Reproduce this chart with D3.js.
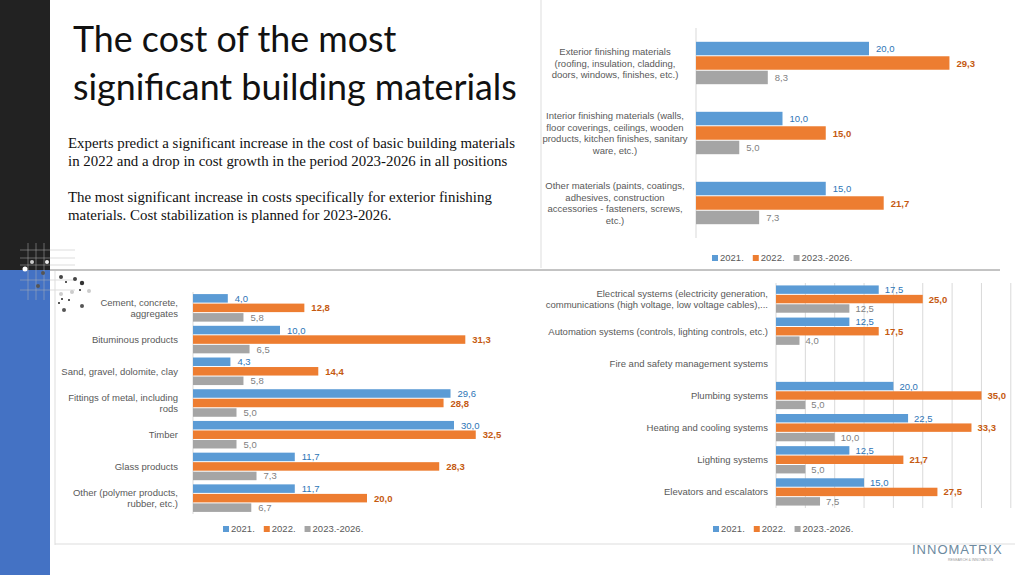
<!DOCTYPE html>
<html><head><meta charset="utf-8">
<script src="https://cdn.jsdelivr.net/npm/d3@7"></script>
<style>body{margin:0;background:#fff}svg{display:block}</style>
</head><body>
<svg id="s" width="1024" height="575"></svg>
<script>
const seriesNames = ["2021.", "2022.", "2023.-2026."];
const finishCats = [
  ["Exterior finishing materials","(roofing, insulation, cladding,","doors, windows, finishes, etc.)"],
  ["Interior finishing materials (walls,","floor coverings, ceilings, wooden","products, kitchen finishes, sanitary","ware, etc.)"],
  ["Other materials (paints, coatings,","adhesives, construction","accessories - fasteners, screws,","etc.)"]
];
const finish2021 = [20.0, 10.0, 15.0];
const finish2022 = [29.3, 15.0, 21.7];
const finish2326 = [8.3, 5.0, 7.3];

const basicCats = [
  ["Cement, concrete,","aggregates"],["Bituminous products"],["Sand, gravel, dolomite, clay"],
  ["Fittings of metal, including","rods"],["Timber"],["Glass products"],["Other (polymer products,","rubber, etc.)"]
];
const basic2021 = [4.0, 10.0, 4.3, 29.6, 30.0, 11.7, 11.7];
const basic2022 = [12.8, 31.3, 14.4, 28.8, 32.5, 28.3, 20.0];
const basic2326 = [5.8, 6.5, 5.8, 5.0, 5.0, 7.3, 6.7];

const sysCats = [
  ["Electrical systems (electricity generation,","communications (high voltage, low voltage cables),..."],
  ["Automation systems (controls, lighting controls, etc.)"],
  ["Fire and safety management systems"],["Plumbing systems"],["Heating and cooling systems"],
  ["Lighting systems"],["Elevators and escalators"]
];
const sys2021 = [17.5, 12.5, null, 20.0, 22.5, 12.5, 15.0];
const sys2022 = [25.0, 17.5, null, 35.0, 33.3, 21.7, 27.5];
const sys2326 = [12.5, 4.0, null, 5.0, 10.0, 5.0, 7.5];
const sysTicks = [0,5,10,15,20,25,30,35,40];

const colors = ["#5b9bd5","#ed7d31","#a5a5a5"];
const valColors = ["#2e75b6","#c55a11","#7f7f7f"];
const svg = d3.select("#s");
const F = "'Liberation Sans', Arial, sans-serif";

svg.append("rect").attr("x",0).attr("y",0).attr("width",50).attr("height",270).attr("fill","#222");
svg.append("rect").attr("x",0).attr("y",270).attr("width",50).attr("height",305).attr("fill","#4472c4");
const gl = svg.append("g").attr("stroke","#bbb").attr("stroke-width",0.6).attr("opacity",0.8);
[28,36,44].forEach(x=>gl.append("line").attr("x1",x).attr("x2",x).attr("y1",243).attr("y2",300));
[250,258,265,280,290].forEach(y=>gl.append("line").attr("x1",20).attr("x2",75).attr("y1",y).attr("y2",y));
[[32,262,2,"#ccc"],[47,262,2,"#eee"],[25,269,2.5,"#fff"],[43,273,2,"#555"],[38,286,2,"#555"],
 [61,277,2,"#444"],[75,279,2,"#444"],[82,283,2.2,"#333"],[66,282,1,"#222"],[80,290,1,"#222"],
 [61,294,2,"#ccc"],[72,292,2,"#ccc"],[89,291,2,"#ccc"],[62,299,1,"#222"],[69,300,1,"#222"],
 [59,303,1,"#222"],[82,306,2,"#555"],[64,310,2,"#555"]]
 .forEach(d=>svg.append("circle").attr("cx",d[0]).attr("cy",d[1]).attr("r",d[2]).attr("fill",d[3]));

svg.append("line").attr("x1",541).attr("x2",541).attr("y1",0).attr("y2",268).attr("stroke","#ddd");
svg.append("line").attr("x1",50).attr("x2",1000).attr("y1",270).attr("y2",270).attr("stroke","#888").attr("stroke-width",1);
svg.append("line").attr("x1",55).attr("x2",55).attr("y1",271).attr("y2",545).attr("stroke","#ddd");
svg.append("line").attr("x1",55).attr("x2",1015).attr("y1",544).attr("y2",544).attr("stroke","#ddd");

const t = svg.append("text").attr("font-family","Lato, 'Open Sans', sans-serif").attr("font-size",35.8).attr("fill","#111");
t.append("tspan").attr("x",73).attr("y",52).text("The cost of the most");
t.append("tspan").attr("x",73).attr("y",100).text("significant building materials");
const body = [["Experts predict a significant increase in the cost of basic building materials",148],
 ["in 2022 and a drop in cost growth in the period 2023-2026 in all positions",166],
 ["The most significant increase in costs specifically for exterior finishing",202],
 ["materials. Cost stabilization is planned for 2023-2026.",220]];
body.forEach(b=>svg.append("text").attr("x",68).attr("y",b[1]).attr("font-family","'Liberation Serif', serif")
  .attr("font-size",14.9).attr("fill","#111").text(b[0]));

function chart(o){
  const g = svg.append("g");
  const x = d3.scaleLinear().domain([0,o.max]).range([o.x0,o.x0+o.unit*o.max]);
  const y = d3.scaleBand().domain(d3.range(o.cats.length)).range([o.y0,o.y1]).paddingInner(o.pad).paddingOuter(o.pad/2);
  const ys = d3.scaleBand().domain([0,1,2]).range([0,y.bandwidth()]);
  if(o.ticks){
    g.selectAll(".gr").data(o.ticks.slice(1)).join("line").attr("x1",d=>x(d)).attr("x2",d=>x(d))
      .attr("y1",o.y0).attr("y2",o.y1).attr("stroke","#d9d9d9");
  }
  g.append("line").attr("x1",o.x0).attr("x2",o.x0).attr("y1",o.y0).attr("y2",o.y1).attr("stroke","#d9d9d9");
  o.series.forEach((vals,si)=>{
    vals.forEach((v,i)=>{
      if(v==null) return;
      const yy = y(i)+ys(si);
      g.append("rect").attr("x",o.x0).attr("y",yy+0.5).attr("width",x(v)-o.x0).attr("height",ys.bandwidth()-1).attr("fill",colors[si]);
      g.append("text").attr("x",x(v)+o.lblOff).attr("y",yy+ys.bandwidth()/2+3.5)
        .attr("font-family",F).attr("font-size",o.fs).attr("fill",valColors[si])
        .attr("font-weight",si==1?"bold":"normal").text(d3.format(".1f")(v).replace(".",","));
    });
  });
  o.cats.forEach((lines,i)=>{
    const cy = y(i)+y.bandwidth()/2, lh=o.fs+2;
    const tx = g.append("text").attr("font-family",F).attr("font-size",o.fs).attr("fill","#595959").attr("text-anchor",o.anchor);
    lines.forEach((l,k)=>tx.append("tspan").attr("x",o.lx).attr("y",cy+(k-(lines.length-1)/2)*lh+3.5).text(l));
  });
  let lx = o.legX;
  seriesNames.forEach((n,si)=>{
    g.append("rect").attr("x",lx).attr("y",o.legY-6).attr("width",6).attr("height",6).attr("fill",colors[si]);
    const tt = g.append("text").attr("x",lx+8).attr("y",o.legY).attr("font-family",F).attr("font-size",o.fs).attr("fill","#595959").text(n);
    lx += tt.node().getComputedTextLength()+17;
  });
}
chart({cats:finishCats,series:[finish2021,finish2022,finish2326],x0:696,unit:8.65,max:35,y0:28,y1:238,pad:0.38,
  lx:615,anchor:"middle",fs:9.5,lblOff:7,legX:712,legY:261});
chart({cats:basicCats,series:[basic2021,basic2022,basic2326],x0:193,unit:8.7,max:35,y0:292,y1:514,pad:0.1,
  lx:178,anchor:"end",fs:9.5,lblOff:7,legX:223,legY:532});
chart({cats:sysCats,series:[sys2021,sys2022,sys2326],x0:776,unit:5.87,max:40,y0:283,y1:508,pad:0.12,ticks:sysTicks,
  lx:768,anchor:"end",fs:9.5,lblOff:6,legX:713,legY:532});

svg.append("text").attr("x",912).attr("y",554).attr("font-family",F).attr("font-size",13)
  .attr("letter-spacing",1).attr("fill","#6d8aa0").text("INNOMATRIX");
svg.append("text").attr("x",948).attr("y",561).attr("font-family",F).attr("font-size",3.5)
  .attr("fill","#999").text("RESEARCH & INNOVATION");
</script>
</body></html>
